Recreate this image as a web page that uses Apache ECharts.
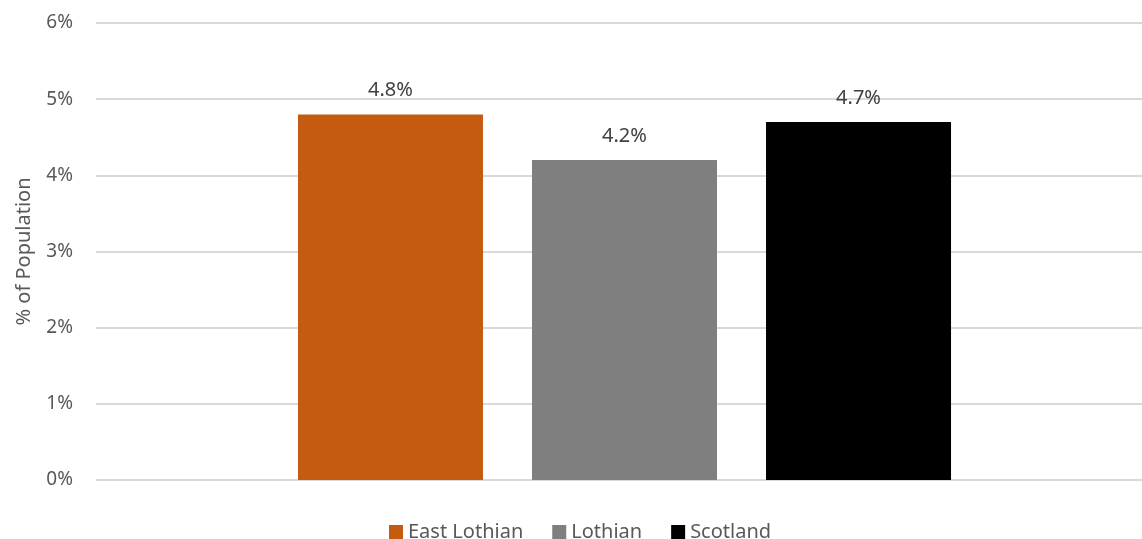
<!DOCTYPE html>
<html>
<head>
<meta charset="utf-8">
<script src="https://cdn.jsdelivr.net/npm/echarts@6/dist/echarts.min.js"></script>
<style>
  html, body { margin: 0; padding: 0; background: #ffffff; overflow: hidden; }
  #chart { width: 1160px; height: 539px; }
</style>
</head>
<body>
<div id="chart"></div>
<script>
// Share of population by area
const categories = [''];
const seriesNames = ['East Lothian', 'Lothian', 'Scotland'];
const seriesValues = [[4.8], [4.2], [4.7]];
const seriesColors = ['#C55A11', '#7F7F7F', '#000000'];
const yTicks = [0, 1, 2, 3, 4, 5, 6];

const FONT = 'Noto Sans';
const chart = echarts.init(document.getElementById('chart'), null, { renderer: 'canvas' });

chart.setOption({
  animation: false,
  textStyle: { fontFamily: FONT },
  grid: { left: 96, right: 7, top: 23, bottom: 59, containLabel: false },
  legend: {
    bottom: -8,
    left: 384,
    itemWidth: 14,
    itemHeight: 14,
    itemGap: 29,
    icon: 'rect',
    textStyle: { color: '#595959', fontSize: 20, fontFamily: FONT },
    data: seriesNames
  },
  xAxis: {
    type: 'category',
    data: categories,
    axisLine: { show: false },
    axisTick: { show: false },
    axisLabel: { show: false }
  },
  yAxis: {
    type: 'value',
    min: yTicks[0],
    max: yTicks[yTicks.length - 1],
    interval: 1,
    name: '% of Population',
    nameLocation: 'middle',
    nameGap: 62,
    nameTextStyle: { color: '#595959', fontSize: 20, fontFamily: FONT },
    axisLine: { show: false },
    axisTick: { show: false },
    axisLabel: {
      color: '#595959',
      fontSize: 19,
      margin: 23,
      formatter: v => v + '%'
    },
    splitLine: { lineStyle: { color: '#D9D9D9', width: 2 } }
  },
  series: seriesNames.map((name, i) => ({
    name,
    type: 'bar',
    data: seriesValues[i],
    barWidth: 185,
    barGap: '26.5%',
    itemStyle: { color: seriesColors[i] },
    label: {
      show: true,
      position: 'top',
      distance: 14,
      color: '#404040',
      fontSize: 20,
      fontFamily: FONT,
      formatter: p => p.value.toFixed(1) + '%'
    }
  }))
});
</script>
</body>
</html>
